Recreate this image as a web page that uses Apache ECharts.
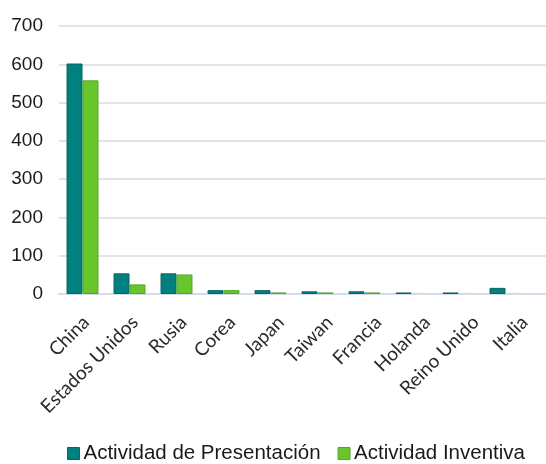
<!DOCTYPE html>
<html>
<head>
<meta charset="utf-8">
<script src="https://cdn.jsdelivr.net/npm/echarts@6/dist/echarts.min.js"></script>
<style>
  html, body { margin: 0; padding: 0; background: #fff; }
  #chart { width: 546px; height: 464px; }
</style>
</head>
<body>
<div id="chart"></div>
<script>
// Countries on the category axis
const countries = ['China', 'Estados Unidos', 'Rusia', 'Corea', 'Japan', 'Taiwan', 'Francia', 'Holanda', 'Reino Unido', 'Italia'];
// Filing activity per country
const presentacion = [602, 54, 54, 10, 10, 7, 7, 4, 4, 16];
// Inventive activity per country
const inventiva = [558, 25, 51, 10, 4, 4, 4, 3, 3, 3];
// Countries whose inventive bar is drawn in the pale tone
const paleInventiva = ['Holanda', 'Reino Unido', 'Italia'];
// Value axis ticks
const yTicks = [0, 100, 200, 300, 400, 500, 600, 700];

const TEAL = '#00807f';
const GREEN = '#66c62c';
const PALE = '#e9dca6';
const GRID_LINE = '#d3dce8';

const chart = echarts.init(document.getElementById('chart'));

chart.setOption({
  animation: false,
  legend: {
    bottom: 0,
    left: 67,
    padding: 0,
    itemWidth: 12,
    itemHeight: 12,
    itemGap: 17,
    icon: 'rect',
    textStyle: { fontFamily: 'Liberation Sans', fontSize: 20.5, color: '#1a1a1a', padding: [0, 0, 0, -1] },
    data: [
      { name: 'Actividad de Presentación', itemStyle: { color: TEAL, borderColor: '#0a6464', borderWidth: 1 } },
      { name: 'Actividad Inventiva', itemStyle: { color: GREEN, borderColor: '#55a52a', borderWidth: 1 } }
    ]
  },
  grid: [
    // wide frame: gridlines, baseline and country labels
    { left: 59, right: -8, top: 26, bottom: 170, containLabel: false },
    // bar area
    { left: 59, width: 470, top: 26, bottom: 170, containLabel: false }
  ],
  xAxis: [
    {
      gridIndex: 0,
      type: 'category',
      data: countries,
      axisLine: { show: true, lineStyle: { color: GRID_LINE, width: 2 } },
      axisTick: { show: false },
      axisLabel: {
        rotate: 45,
        margin: 28,
        padding: [0, -4, 0, 0],
        interval: 0,
        fontFamily: 'Lato',
        fontSize: 19,
        color: '#2b2b2b'
      }
    },
    {
      gridIndex: 1,
      type: 'category',
      data: countries,
      axisLine: { show: false },
      axisTick: { show: false },
      axisLabel: { show: false }
    }
  ],
  yAxis: [
    {
      gridIndex: 0,
      type: 'value',
      min: yTicks[0],
      max: yTicks[yTicks.length - 1],
      interval: 100,
      axisLine: { show: false },
      axisTick: { show: false },
      axisLabel: { fontFamily: 'Liberation Sans', fontSize: 19, color: '#1a1a1a', margin: 16 },
      splitLine: { lineStyle: { color: GRID_LINE, width: 1.5 } }
    },
    {
      gridIndex: 1,
      type: 'value',
      min: yTicks[0],
      max: yTicks[yTicks.length - 1],
      interval: 100,
      axisLine: { show: false },
      axisTick: { show: false },
      axisLabel: { show: false },
      splitLine: { show: false }
    }
  ],
  series: [
    {
      name: 'Actividad de Presentación',
      type: 'bar',
      xAxisIndex: 1,
      yAxisIndex: 1,
      data: presentacion,
      barGap: '0%',
      barCategoryGap: '32%',
      itemStyle: { color: TEAL, borderColor: '#0a6464', borderWidth: 1 }
    },
    {
      name: 'Actividad Inventiva',
      type: 'bar',
      xAxisIndex: 1,
      yAxisIndex: 1,
      data: inventiva.map((v, i) => paleInventiva.includes(countries[i])
        ? { value: v, itemStyle: { color: PALE, borderColor: PALE } }
        : v),
      barGap: '0%',
      barCategoryGap: '32%',
      itemStyle: { color: GREEN, borderColor: '#55a52a', borderWidth: 1 }
    }
  ]
});
</script>
</body>
</html>
